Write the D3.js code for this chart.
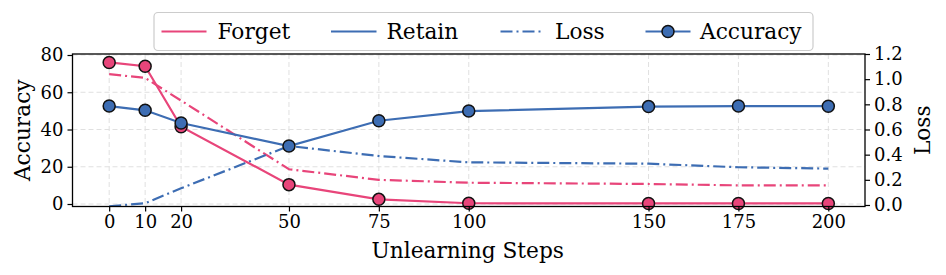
<!DOCTYPE html>
<html><head><meta charset="utf-8">
<script src="https://cdn.jsdelivr.net/npm/d3@7"></script>
<style>html,body{margin:0;padding:0;background:#fff;} svg{display:block;font-family:"DejaVu Serif",serif;}</style>
</head><body>
<svg id="c" width="946" height="275"></svg>
<script>
const steps = [0, 10, 20, 50, 75, 100, 150, 175, 200];
const forgetAcc = [76, 74, 41.5, 10.4, 2.5, 0.4, 0.3, 0.3, 0.3];
const retainAcc = [52.6, 50.3, 43.5, 31.1, 44.7, 49.9, 52.3, 52.6, 52.5];
const forgetLoss = [1.04, 1.01, 0.83, 0.284, 0.20, 0.177, 0.167, 0.156, 0.156];
const retainLoss = [-0.01, 0.014, 0.133, 0.469, 0.389, 0.339, 0.328, 0.30, 0.289];
const xTicks = [0, 10, 20, 50, 75, 100, 150, 175, 200];
const yTicksL = [0, 20, 40, 60, 80];
const yTicksR = [0.0, 0.2, 0.4, 0.6, 0.8, 1.0, 1.2];
const legendLabels = ["Forget", "Retain", "Loss", "Accuracy"];

const PINK = "#e8457a", BLUE = "#3d6db3";
const L = 72.5, R = 865, T = 54, B = 206.5;
const svg = d3.select("#c");
const x = d3.scaleLinear().domain([-10.2, 210.2]).range([L, R]);
const yL = d3.scaleLinear().domain([-1.34, 80.54]).range([B, T]);
const yR = d3.scaleLinear().domain([-0.012, 1.2]).range([B, T]);

const clipId = "pc";
svg.append("clipPath").attr("id", clipId).append("rect")
  .attr("x", L).attr("y", T).attr("width", R - L).attr("height", B - T);

// grid
const g = svg.append("g");
g.selectAll(".gx").data(xTicks).join("line")
  .attr("x1", d => x(d)).attr("x2", d => x(d)).attr("y1", T).attr("y2", B)
  .attr("stroke", "#e0e0e0").attr("stroke-width", 1).attr("stroke-dasharray", "5,3");
g.selectAll(".gy").data(yTicksL).join("line")
  .attr("x1", L).attr("x2", R).attr("y1", d => yL(d)).attr("y2", d => yL(d))
  .attr("stroke", "#e0e0e0").attr("stroke-width", 1).attr("stroke-dasharray", "5,3");

const plot = svg.append("g").attr("clip-path", `url(#${clipId})`);
const lineOf = (vals, ys) => d3.line().x((d, i) => x(steps[i])).y(d => ys(d))(vals);

// loss lines
plot.append("path").attr("d", lineOf(forgetLoss, yR)).attr("fill", "none")
  .attr("stroke", PINK).attr("stroke-width", 2.2).attr("stroke-dasharray", "12,4,2,4");
plot.append("path").attr("d", lineOf(retainLoss, yR)).attr("fill", "none")
  .attr("stroke", BLUE).attr("stroke-width", 2.2).attr("stroke-dasharray", "12,4,2,4");

// accuracy lines
function acc(vals, col) {
  plot.append("path").attr("d", lineOf(vals, yL)).attr("fill", "none")
    .attr("stroke", col).attr("stroke-width", 2.2);
  svg.append("g").selectAll("circle").data(vals).join("circle")
    .attr("cx", (d, i) => x(steps[i])).attr("cy", d => yL(d)).attr("r", 6)
    .attr("fill", col).attr("stroke", "#111").attr("stroke-width", 1.5);
}
acc(forgetAcc, PINK);
acc(retainAcc, BLUE);

// axes
const fs = "18px";
const ax = svg.append("g").attr("transform", `translate(0,${B})`)
  .call(d3.axisBottom(x).tickValues(xTicks).tickSize(5).tickPadding(4).tickFormat(d3.format("d")));
const ayl = svg.append("g").attr("transform", `translate(${L},0)`)
  .call(d3.axisLeft(yL).tickValues(yTicksL).tickSize(5).tickPadding(4));
const ayr = svg.append("g").attr("transform", `translate(${R},0)`)
  .call(d3.axisRight(yR).tickValues(yTicksR).tickSize(5).tickPadding(4).tickFormat(d3.format(".1f")));
[ax, ayl, ayr].forEach(a => {
  a.select(".domain").remove();
  a.selectAll("text").attr("font-size", fs).attr("font-family", "DejaVu Serif").attr("fill", "#000");
  a.selectAll("line").attr("stroke", "#000").attr("stroke-width", 1.2);
});
svg.append("rect").attr("x", L).attr("y", T).attr("width", R - L).attr("height", B - T)
  .attr("fill", "none").attr("stroke", "#000").attr("stroke-width", 1.3);

// labels
svg.append("text").attr("x", (L + R) / 2 - 1).attr("y", 257.5).attr("text-anchor", "middle")
  .attr("font-size", "21.7px").text("Unlearning Steps");
svg.append("text").attr("transform", `translate(30,${(T + B) / 2}) rotate(-90)`)
  .attr("text-anchor", "middle").attr("font-size", "21.7px").text("Accuracy");
svg.append("text").attr("transform", `translate(929.5,${(T + B) / 2}) rotate(-90)`)
  .attr("text-anchor", "middle").attr("font-size", "21.7px").text("Loss");

// legend
const lg = svg.append("g");
lg.append("rect").attr("x", 154).attr("y", 12.5).attr("width", 659).attr("height", 38).attr("rx", 4)
  .attr("fill", "#fff").attr("fill-opacity", 0.85).attr("stroke", "#cccccc").attr("stroke-width", 1.2);
const items = [
  {x1: 161.5, x2: 206.5, tx: 217.5, col: PINK, dash: null, marker: false},
  {x1: 331, x2: 376.5, tx: 386.5, col: BLUE, dash: null, marker: false},
  {x1: 500.5, x2: 544, tx: 555, col: BLUE, dash: "12,4,2,4", marker: false},
  {x1: 645.5, x2: 690.5, tx: 700, col: BLUE, dash: null, marker: true}
];
items.forEach((it, i) => {
  const ly = 31.5;
  const ln = lg.append("line").attr("x1", it.x1).attr("x2", it.x2).attr("y1", ly).attr("y2", ly)
    .attr("stroke", it.col).attr("stroke-width", 2.2);
  if (it.dash) ln.attr("stroke-dasharray", it.dash);
  if (it.marker) lg.append("circle").attr("cx", (it.x1 + it.x2) / 2).attr("cy", ly).attr("r", 6)
    .attr("fill", it.col).attr("stroke", "#111").attr("stroke-width", 1.5);
  lg.append("text").attr("x", it.tx).attr("y", 38.8).attr("font-size", "21.7px").text(legendLabels[i]);
});
</script>
</body></html>
